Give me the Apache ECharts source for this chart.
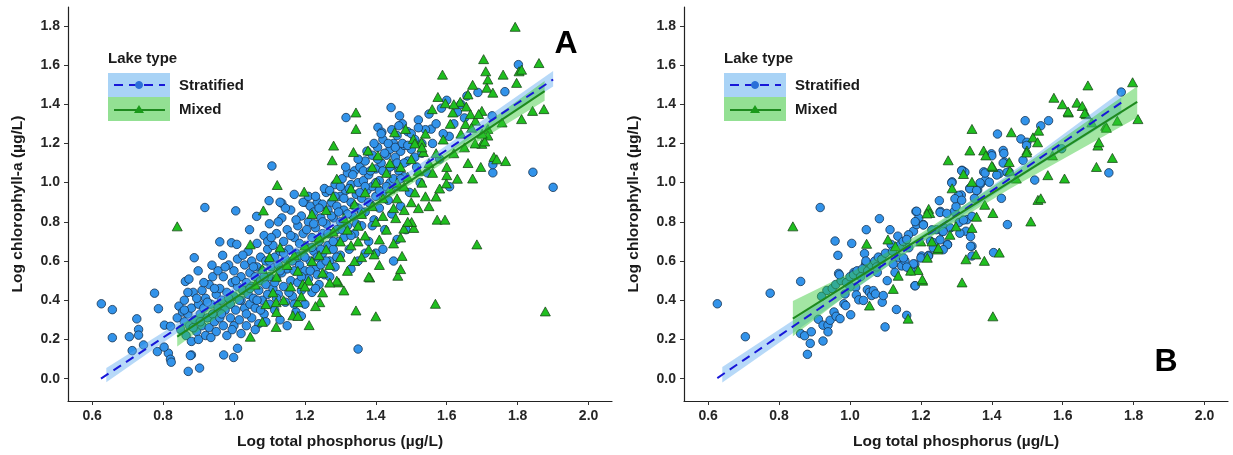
<!DOCTYPE html>
<html><head><meta charset="utf-8">
<script src="https://cdn.jsdelivr.net/npm/echarts@6/dist/echarts.min.js"></script>
<style>html,body{margin:0;padding:0;background:#fff}#c{width:1233px;height:455px}</style>
</head><body><div id="c"></div>
<script>
const xTicks = [0.6,0.8,1.0,1.2,1.4,1.6,1.8,2.0];
const yTicks = [0.0,0.2,0.4,0.6,0.8,1.0,1.2,1.4,1.6,1.8];
const xTitle = 'Log total phosphorus (µg/L)';
const yTitle = 'Log chlorophyll-a (µg/L)';
const legendTitle = 'Lake type';
const groupNames = ['Stratified','Mixed'];
const panelLabels = ['A','B'];

// Panel A – stratified lakes (circles)
const aStratified = [
[0.626,0.382],[0.657,0.352],[0.657,0.209],[0.705,0.214],[0.726,0.305],[0.731,0.251],[0.731,0.222],[0.713,0.143],[0.745,0.172],[0.776,0.436],
[0.787,0.357],[0.804,0.273],[0.821,0.267],[0.784,0.138],[0.815,0.130],[0.821,0.099],[0.823,0.084],[0.871,0.037],[0.903,0.054],[0.971,0.121],
[0.999,0.108],[1.010,0.155],[0.880,0.121],[0.877,0.118],[0.803,0.161],[0.888,0.617],[0.918,0.873],[1.005,0.856],[1.107,1.085],[1.350,0.151],
[1.900,0.976],[1.843,1.053],[1.802,1.602],[1.764,1.464],[1.730,1.050],[1.730,1.092],[1.688,1.460],[1.657,1.442],[1.443,1.383],[1.316,1.332],
[0.960,0.698],[0.993,0.693],[1.008,0.685],[0.968,0.629],[0.899,0.550],[0.863,0.496],[0.873,0.508],[0.938,0.579],[1.099,0.908],[1.135,0.895],
[1.064,0.828],[1.044,0.760],[1.607,1.236],[1.556,1.273],[1.467,1.341],[1.406,1.282],[1.417,1.257],[1.608,0.979],[1.728,1.341],
[0.84,0.31],[0.845,0.37],[0.85,0.25],[0.855,0.34],[0.86,0.29],[0.86,0.40],[0.865,0.22],[0.87,0.33],[0.875,0.27],[0.88,0.36],
[0.88,0.19],[0.885,0.44],[0.89,0.30],[0.895,0.24],[0.90,0.38],[0.90,0.20],[0.905,0.33],
[0.91,0.27],[0.91,0.45],[0.915,0.36],[0.92,0.22],[0.92,0.41],[0.925,0.31],[0.93,0.48],[0.93,0.26],[0.935,0.38],[0.94,0.33],
[0.94,0.52],[0.945,0.29],[0.95,0.43],[0.95,0.24],[0.955,0.36],[0.955,0.55],
[0.96,0.31],[0.96,0.46],[0.965,0.40],[0.97,0.27],[0.97,0.52],[0.975,0.35],[0.98,0.44],[0.98,0.22],[0.985,0.58],[0.99,0.38],
[0.99,0.31],[0.995,0.49],[1.0,0.42],[1.0,0.27],[1.0,0.55],
[1.005,0.35],[1.01,0.47],[1.01,0.61],[1.015,0.30],[1.02,0.40],[1.02,0.52],[1.025,0.45],[1.03,0.36],[1.03,0.58],[1.035,0.27],
[1.035,0.49],[1.04,0.43],[1.04,0.65],[1.045,0.38],[1.045,0.54],[1.05,0.31],[1.05,0.47],[1.05,0.60],
[1.055,0.41],[1.06,0.52],[1.06,0.36],[1.065,0.57],[1.065,0.69],[1.07,0.45],[1.07,0.28],[1.075,0.50],[1.075,0.62],[1.08,0.40],
[1.08,0.55],[1.085,0.33],[1.085,0.73],[1.09,0.48],[1.09,0.60],[1.095,0.43],[1.095,0.66],[1.10,0.52],[1.10,0.38],[1.10,0.79],
[1.105,0.57],[1.11,0.46],[1.11,0.68],[1.115,0.35],[1.115,0.62],[1.12,0.51],[1.12,0.74],[1.125,0.43],[1.125,0.58],[1.13,0.65],
[1.13,0.30],[1.135,0.54],[1.135,0.82],[1.14,0.47],[1.14,0.70],[1.145,0.61],[1.145,0.39],[1.15,0.56],[1.15,0.76],[1.15,0.27],
[1.155,0.66],[1.16,0.50],[1.16,0.86],[1.165,0.60],[1.165,0.42],[1.17,0.72],[1.17,0.55],[1.175,0.64],[1.175,0.34],[1.18,0.78],
[1.18,0.49],[1.185,0.69],[1.185,0.58],[1.19,0.83],[1.19,0.45],[1.195,0.63],[1.195,0.74],[1.20,0.55],[1.20,0.90],[1.20,0.38],
[1.205,0.67],[1.21,0.80],[1.21,0.51],[1.215,0.60],[1.215,0.88],[1.22,0.72],[1.22,0.44],[1.225,0.65],[1.225,0.85],[1.23,0.56],
[1.23,0.77],[1.235,0.90],[1.235,0.62],[1.24,0.70],[1.24,0.48],[1.245,0.82],[1.245,0.58],[1.25,0.74],[1.25,0.89],[1.25,0.64],
[1.255,0.53],[1.26,0.79],[1.26,0.95],[1.265,0.68],[1.265,0.86],[1.27,0.60],[1.27,0.74],[1.275,0.90],[1.28,0.82],[1.28,0.66],
[1.285,0.99],[1.285,0.57],[1.29,0.76],[1.29,0.88],[1.295,0.70],[1.30,0.93],[1.30,0.63],[1.30,0.80],
[1.305,1.02],[1.31,0.86],[1.31,0.72],[1.315,0.96],[1.32,0.78],[1.32,1.05],[1.325,0.66],[1.33,0.90],[1.33,0.99],[1.335,0.83],
[1.34,1.06],[1.34,0.74],[1.345,0.94],[1.35,0.87],[1.35,1.00],[1.35,0.60],
[1.355,1.08],[1.36,0.92],[1.36,0.78],[1.365,1.01],[1.37,0.85],[1.37,1.11],[1.375,0.96],[1.38,0.70],[1.38,1.04],[1.385,0.89],
[1.39,1.14],[1.39,0.98],[1.395,0.81],[1.40,1.07],[1.40,0.93],[1.40,0.64],
[1.405,1.18],[1.41,1.01],[1.41,0.87],[1.415,1.10],[1.42,0.95],[1.42,1.22],[1.425,0.76],[1.43,1.05],[1.43,1.14],[1.435,0.91],
[1.44,1.17],[1.44,1.00],[1.445,0.84],[1.45,1.09],[1.45,1.20],[1.45,0.60],
[1.455,1.13],[1.46,0.98],[1.46,1.24],[1.465,1.06],[1.47,0.88],[1.47,1.16],[1.475,1.30],[1.48,1.03],[1.48,1.19],[1.485,0.76],
[1.49,1.11],[1.49,1.26],[1.495,0.95],[1.50,1.17],
[1.51,1.22],[1.515,1.08],[1.52,1.32],[1.525,1.00],[1.53,1.15],[1.54,1.27],[1.545,1.05],[1.55,1.35],[1.56,1.20],[1.57,1.30],
[1.58,1.12],[1.585,1.38],[1.59,1.25],[1.60,1.42],[1.62,1.30],[1.63,1.36],[1.64,1.40],[1.65,1.33],
[0.86,0.35],[0.87,0.44],[0.885,0.26],[0.895,0.41],[0.905,0.29],[0.915,0.49],[0.925,0.39],[0.935,0.21],[0.945,0.46],[0.965,0.33],
[0.975,0.57],[0.985,0.41],[0.995,0.25],
[1.005,0.50],[1.015,0.40],[1.025,0.63],[1.035,0.33],[1.045,0.46],[1.055,0.57],[1.065,0.40],[1.075,0.35],[1.085,0.52],[1.095,0.70],
[1.02,0.23],[1.06,0.25],[1.09,0.29],[1.1,0.60],
[1.105,0.72],[1.115,0.49],[1.12,0.41],[1.125,0.80],[1.13,0.55],[1.14,0.64],[1.145,0.87],[1.155,0.44],[1.16,0.73],[1.17,0.38],
[1.175,0.81],[1.18,0.62],[1.19,0.52],[1.195,0.90],[1.2,0.62],[1.17,0.94],[1.13,0.90],[1.19,0.32],
[1.205,0.76],[1.21,0.93],[1.215,0.55],[1.22,0.67],[1.225,0.79],[1.23,0.93],[1.235,0.53],[1.24,0.87],[1.245,0.66],[1.25,0.80],
[1.255,0.97],[1.26,0.60],[1.265,0.74],[1.27,0.96],[1.275,0.83],[1.28,0.70],[1.285,0.93],[1.29,0.62],[1.295,0.85],[1.3,0.98],
[1.23,0.46],[1.27,0.52],
[1.305,0.76],[1.31,0.92],[1.315,1.08],[1.32,0.84],[1.325,0.97],[1.33,0.73],[1.335,1.04],[1.34,0.88],[1.345,0.79],[1.35,1.12],
[1.355,0.95],[1.36,0.85],[1.365,1.06],[1.37,0.98],[1.375,1.16],[1.38,0.90],[1.385,1.06],[1.39,0.78],[1.395,1.20],[1.4,1.00],
[1.33,0.56],[1.37,0.64],
[1.405,1.12],[1.41,0.96],[1.415,1.25],[1.42,1.06],[1.425,1.15],[1.43,0.98],[1.435,1.20],[1.44,1.08],[1.445,1.27],[1.45,1.02],
[1.455,1.18],[1.46,1.10],[1.465,1.29],[1.47,1.02],[1.475,1.20],[1.48,1.10],[1.49,1.19],[1.5,1.25],[1.51,1.13],[1.52,1.28],
[1.53,1.20],[1.42,0.66],[1.46,0.71]
];

// Panel A – mixed lakes (triangles)
const aMixed = [
[0.840,0.777],[1.793,1.795],[1.704,1.630],[1.860,1.610],[1.588,1.551],[1.710,1.568],[1.759,1.551],[1.804,1.568],[1.716,1.526],[1.673,1.499],
[1.713,1.484],[1.730,1.459],[1.797,1.509],[1.811,1.576],[1.575,1.437],[1.596,1.405],[1.638,1.412],[1.655,1.388],[1.699,1.366],[1.842,1.366],
[1.874,1.375],[1.559,1.375],[1.617,1.358],[1.667,1.349],[1.811,1.324],[1.681,1.316],[1.653,1.299],[1.756,1.307],[1.716,1.274],[1.716,1.240],
[1.699,1.198],[1.707,1.210],[1.733,1.131],[1.766,1.110],[1.741,1.119],[1.696,1.080],[1.673,1.021],[1.600,1.038],[1.599,0.996],[1.570,0.929],
[1.685,0.685],[1.573,0.811],[1.595,0.811],[1.568,0.382],[1.878,0.343],[1.400,0.318],[1.344,0.348],[1.383,0.516],[1.462,0.525],[1.470,0.559],
[1.474,0.626],[1.479,0.765],[1.507,0.769],[1.501,0.799],[1.456,0.819],[1.344,1.358],[1.344,1.274],[1.281,1.189],[1.277,1.114],[1.337,1.156],
[1.378,1.164],[1.406,1.139],[1.453,1.257],[1.484,1.274],[1.506,1.223],[1.529,1.206],[1.534,1.156],[1.122,0.988],[1.198,0.954],[1.083,0.858],
[1.046,0.685],[1.046,0.214],[1.119,0.264],[1.212,0.273],[1.166,0.323],[1.119,0.390],[1.180,0.390],[1.242,0.390],[1.194,0.483],[1.295,0.491],
[1.395,0.634],
[1.06,0.48],[1.08,0.56],[1.09,0.38],[1.10,0.62],[1.11,0.44],[1.12,0.52],[1.13,0.67],[1.14,0.40],[1.15,0.58],[1.12,0.34],[1.08,0.29],
[1.16,0.47],[1.17,0.63],[1.18,0.55],[1.19,0.42],[1.20,0.68],[1.21,0.50],[1.22,0.60],[1.23,0.37],[1.24,0.72],[1.25,0.54],
[1.22,0.84],[1.18,0.32],[1.20,0.47],[1.24,0.63],[1.25,0.44],
[1.26,0.66],[1.27,0.58],[1.28,0.75],[1.29,0.50],[1.30,0.70],[1.30,0.62],[1.31,0.82],[1.32,0.55],[1.32,0.76],[1.33,0.68],
[1.34,0.89],[1.34,0.60],[1.35,0.78],[1.26,0.86],[1.28,0.93],[1.33,0.97],[1.29,1.02],[1.31,0.45],[1.35,0.70],[1.27,0.49],
[1.36,0.84],[1.37,0.73],[1.37,0.95],[1.38,0.66],[1.39,0.88],[1.40,0.80],[1.40,1.00],[1.41,0.71],[1.42,0.92],[1.42,0.83],
[1.43,1.05],[1.43,0.76],[1.44,0.97],[1.45,0.87],[1.45,0.69],[1.39,1.08],[1.41,0.58],[1.44,1.10],[1.36,0.62],[1.38,0.52],
[1.46,1.00],[1.46,0.92],[1.47,1.08],[1.48,0.86],[1.48,0.98],[1.49,1.03],[1.50,0.90],[1.50,1.12],[1.51,0.95],[1.52,1.06],
[1.52,0.87],[1.53,1.00],[1.53,1.18],[1.54,0.93],[1.55,1.10],[1.55,0.88],[1.47,0.72],[1.49,0.80],[1.51,1.20],[1.54,1.25],
[1.56,1.05],[1.57,1.15],[1.58,0.97],[1.59,1.22],[1.60,1.08],[1.61,1.30],[1.62,1.15],[1.63,1.02],[1.64,1.25],[1.65,1.18],
[1.66,1.10],[1.67,1.28],[1.68,1.20],[1.69,1.35],[1.70,1.25],[1.62,1.40],[1.66,1.45]
];

// Panel B – stratified lakes (circles)
const bStratified = [
[0.626,0.382],[0.705,0.214],[0.775,0.436],[0.861,0.496],[0.916,0.873],[0.861,0.230],[0.872,0.219],[0.880,0.124],[0.888,0.180],[0.891,0.239],
[0.911,0.303],[0.924,0.273],[0.924,0.192],[0.938,0.273],[0.938,0.239],[0.944,0.298],[0.955,0.340],[0.961,0.318],[0.972,0.306],[0.983,0.382],
[0.988,0.373],[1.002,0.326],[0.958,0.702],[0.966,0.629],[0.968,0.537],[0.986,0.432],[0.994,0.491],[1.005,0.690],[1.011,0.542],[1.016,0.466],
[1.018,0.427],[1.025,0.402],[1.038,0.399],[1.041,0.638],[1.044,0.584],[1.046,0.760],[1.049,0.454],[1.055,0.441],[1.061,0.424],[1.066,0.449],
[1.072,0.432],[1.077,0.542],[1.083,0.816],[1.091,0.390],[1.094,0.424],[1.099,0.264],[1.105,0.500],[1.113,0.760],[1.116,0.685],[1.122,0.584],
[1.127,0.542],[1.131,0.353],[1.135,0.727],[1.138,0.617],[1.146,0.575],[1.155,0.601],[1.160,0.323],[1.166,0.668],[1.172,0.550],[1.179,0.752],
[1.183,0.584],[1.186,0.853],[1.188,0.786],[1.194,0.819],[1.183,0.474],[1.202,0.626],[1.207,0.786],[1.222,0.629],[1.227,0.702],[1.236,0.693],
[1.244,0.760],[1.252,0.908],[1.255,0.853],[1.260,0.752],[1.266,0.769],[1.275,0.685],[1.283,0.769],[1.288,1.004],[1.294,0.853],[1.299,0.878],
[1.308,0.797],[1.314,0.937],[1.316,1.063],[1.321,1.055],[1.327,0.752],[1.330,0.811],[1.338,0.971],[1.344,0.828],[1.344,0.676],[1.344,0.626],
[1.351,0.920],[1.360,0.962],[1.368,0.993],[1.377,1.055],[1.382,1.013],[1.399,1.147],[1.405,0.643],[1.416,1.248],[1.421,1.046],[1.427,0.920],
[1.432,1.164],[1.436,1.105],[1.444,0.786],[1.449,1.055],[1.482,1.223],[1.494,1.316],[1.499,1.206],[1.488,1.114],[1.521,1.013],[1.538,1.290],
[1.560,1.316],[1.765,1.462],[1.730,1.050],[1.597,1.173],
[1.498,1.190],[1.434,1.149],[1.400,1.137],[1.432,1.100],[1.443,1.053],[1.414,1.039],[1.381,1.049],[1.324,1.053],[1.315,1.061],[1.393,1.002],
[1.367,0.999],[1.287,0.999],[1.338,0.969],[1.357,0.960],[1.306,0.935],[1.296,0.918],[1.315,0.910],[1.188,0.854],[1.254,0.848],[1.273,0.843],
[1.184,0.801],[1.320,0.809],[1.207,0.784],[1.231,0.759],[1.263,0.751],[1.310,0.742],[1.340,0.725],[1.165,0.734],[1.254,0.708],[1.340,0.675],
[1.275,0.683],[1.235,0.667],[1.263,0.658],[1.200,0.616],[1.221,0.625],[1.151,0.616],[1.179,0.586],[1.160,0.569],[1.184,0.474],
[0.92,0.42],[0.935,0.45],[0.95,0.46],[0.96,0.48],[0.975,0.50],[0.99,0.49],[1.0,0.52],[1.01,0.53],[1.02,0.55],[1.035,0.56],
[1.05,0.55],[1.06,0.58],[1.07,0.60],[1.08,0.62],[1.09,0.61],[1.1,0.64],[1.12,0.65],[1.14,0.68],[1.15,0.70],[1.16,0.71],
[0.97,0.53],[1.03,0.52],[1.0,0.47],[1.045,0.60],[1.075,0.57]
];

// Panel B – mixed lakes (triangles)
const bMixed = [
[0.839,0.777],[1.047,0.688],[1.055,0.373],[1.107,0.710],[1.122,0.458],[1.136,0.525],[1.164,0.306],[1.192,0.554],[1.205,0.500],[1.218,0.617],
[1.222,0.866],[1.225,0.845],[1.247,0.659],[1.277,1.114],[1.288,0.971],[1.299,0.777],[1.316,0.491],[1.327,0.609],[1.344,1.274],[1.338,1.164],
[1.344,1.004],[1.344,0.769],[1.355,0.634],[1.377,1.164],[1.383,1.139],[1.380,0.887],[1.379,0.601],[1.403,1.080],[1.403,0.845],[1.403,0.318],
[1.421,0.643],[1.455,1.257],[1.449,1.105],[1.469,1.021],[1.499,1.164],[1.516,1.231],[1.529,1.206],[1.532,1.265],[1.510,0.802],[1.530,0.912],
[1.538,0.920],[1.558,1.038],[1.571,1.139],[1.575,1.433],[1.599,1.400],[1.605,1.021],[1.616,1.358],[1.640,1.408],[1.655,1.391],[1.666,1.349],
[1.671,1.496],[1.682,1.307],[1.695,1.080],[1.699,1.189],[1.702,1.206],[1.721,1.290],[1.740,1.126],[1.754,1.316],[1.797,1.512],[1.812,1.324],
[1.128,0.676],[1.171,0.551],[1.200,0.700],[1.400,1.086],[1.498,1.154],[1.451,1.061],[1.320,1.044],[1.357,0.826],[1.217,0.843],[1.249,0.667],
[1.231,0.700],[1.282,0.734],[1.204,0.507],[1.615,1.363],[1.662,1.355],[1.723,1.280]
];

// Fitted regression lines (endpoints)
const aStratFit = [[0.625,0.000],[1.900,1.526]];
const aMixedFit = [[0.840,0.214],[1.876,1.467]];
const bStratFit = [[0.626,0.003],[1.765,1.408]];
const bMixedFit = [[0.839,0.306],[1.810,1.412]];

// Confidence bands: [x, lower, upper]
const aStratBand = [[0.64,-0.018,0.054],[0.9,0.31,0.35],[1.2,0.678,0.702],[1.5,1.035,1.065],[1.9,1.49,1.57]];
const aMixedBand = [[0.84,0.164,0.264],[1.1,0.504,0.554],[1.35,0.816,0.846],[1.6,1.112,1.156],[1.876,1.418,1.518]];
const bStratBand = [[0.64,-0.02,0.06],[0.9,0.31,0.37],[1.2,0.693,0.729],[1.5,1.05,1.11],[1.765,1.35,1.465]];
const bMixedBand = [[0.839,0.216,0.396],[1.0,0.439,0.539],[1.2,0.692,0.742],[1.45,0.967,1.037],[1.81,1.332,1.492]];

const FONT = '"Liberation Sans", Arial, sans-serif';
const C_FILL = '#3293ea', C_EDGE = '#17324f';
const T_FILL = '#1fbf1f', T_EDGE = '#1b4a1b';
const STRAT_LINE = '#1717d8', MIX_LINE = '#1e8a1e';
const STRAT_BAND = 'rgba(95,170,240,0.45)', MIX_BAND = 'rgba(50,200,50,0.45)';
const STRAT_KEY = '#a9d3f6', MIX_KEY = '#93e093';

const chart = echarts.init(document.getElementById('c'), null, {renderer:'canvas'});

function xAxisFor(i){
  return {type:'value', gridIndex:i, min:0.532, max:2.066,
    name:xTitle, nameLocation:'middle', nameGap:33,
    nameTextStyle:{fontFamily:FONT, fontWeight:'bold', fontSize:15.5, color:'#1a1a1a'},
    axisLine:{show:true, onZero:false, lineStyle:{color:'#222', width:1.2}},
    axisTick:{show:true, length:4, customValues:xTicks, lineStyle:{color:'#333'}},
    axisLabel:{customValues:xTicks, margin:8, fontFamily:FONT, fontWeight:'bold', fontSize:14, color:'#262626', formatter:v=>v.toFixed(1)},
    splitLine:{show:false}};
}
function yAxisFor(i){
  return {type:'value', gridIndex:i, min:-0.114, max:1.896,
    name:yTitle, nameLocation:'middle', nameGap:42, nameRotate:90,
    nameTextStyle:{fontFamily:FONT, fontWeight:'bold', fontSize:15.5, color:'#1a1a1a'},
    axisLine:{show:true, onZero:false, lineStyle:{color:'#222', width:1.2}},
    axisTick:{show:true, length:4, customValues:yTicks, lineStyle:{color:'#333'}},
    axisLabel:{customValues:yTicks, margin:8, fontFamily:FONT, fontWeight:'bold', fontSize:14, color:'#262626', formatter:v=>v.toFixed(1)},
    splitLine:{show:false}};
}
function bandSeries(band, color, i){
  return {type:'custom', xAxisIndex:i, yAxisIndex:i, data:band, z:3, silent:true, encode:{x:0, y:[1,2]},
    renderItem:function(params, api){
      if(params.dataIndex!==0) return {type:'group', children:[]};
      const top = band.map(r=>api.coord([r[0], r[2]]));
      const bot = band.slice().reverse().map(r=>api.coord([r[0], r[1]]));
      return {type:'polygon', shape:{points:top.concat(bot)}, style:{fill:color}};
    }};
}
function scatterSeries(data, name, i, tri){
  return {type:'scatter', name:name, xAxisIndex:i, yAxisIndex:i, data:data, z:2,
    symbol: tri ? 'triangle' : 'circle', symbolSize: tri ? [10,9] : 8.5,
    itemStyle:{color: tri ? T_FILL : C_FILL, borderColor: tri ? T_EDGE : C_EDGE, borderWidth:0.8, opacity:1}};
}
function lineSeries(data, color, dashed, i){
  return {type:'line', xAxisIndex:i, yAxisIndex:i, data:data, z:5, symbol:'none', silent:true,
    lineStyle:{color:color, width:2, type: dashed ? [9,6] : 'solid'}};
}
function legendGraphics(dx){
  const tf = 'bold 15px '+FONT;
  return [
    {type:'text', x:108+dx, y:59, style:{text:legendTitle, font:tf, fill:'#1a1a1a', verticalAlign:'middle'}},
    {type:'rect', shape:{x:108+dx, y:73, width:62, height:24}, style:{fill:STRAT_KEY}},
    {type:'rect', shape:{x:108+dx, y:97, width:62, height:24}, style:{fill:MIX_KEY}},
    {type:'line', shape:{x1:114+dx, y1:85, x2:165+dx, y2:85}, style:{stroke:STRAT_LINE, lineWidth:2, lineDash:[9,6]}},
    {type:'circle', shape:{cx:139+dx, cy:85, r:3.5}, style:{fill:'#2a6fd8', stroke:'#2a6fd8'}},
    {type:'line', shape:{x1:114+dx, y1:110, x2:165+dx, y2:110}, style:{stroke:MIX_LINE, lineWidth:2}},
    {type:'polygon', shape:{points:[[139+dx,105],[144+dx,113],[134+dx,113]]}, style:{fill:'#1a9a1a'}},
    {type:'text', x:179+dx, y:86, style:{text:groupNames[0], font:tf, fill:'#1a1a1a', verticalAlign:'middle'}},
    {type:'text', x:179+dx, y:110, style:{text:groupNames[1], font:tf, fill:'#1a1a1a', verticalAlign:'middle'}}
  ];
}

chart.setOption({
  animation:false,
  backgroundColor:'#fff',
  grid:[{left:68, top:7, width:544, height:397}, {left:684, top:7, width:544, height:397}],
  xAxis:[xAxisFor(0), xAxisFor(1)],
  yAxis:[yAxisFor(0), yAxisFor(1)],
  series:[
    scatterSeries(aStratified, groupNames[0], 0, false),
    scatterSeries(aMixed, groupNames[1], 0, true),
    bandSeries(aStratBand, STRAT_BAND, 0),
    bandSeries(aMixedBand, MIX_BAND, 0),
    lineSeries(aStratFit, STRAT_LINE, true, 0),
    lineSeries(aMixedFit, MIX_LINE, false, 0),
    scatterSeries(bStratified, groupNames[0], 1, false),
    scatterSeries(bMixed, groupNames[1], 1, true),
    bandSeries(bStratBand, STRAT_BAND, 1),
    bandSeries(bMixedBand, MIX_BAND, 1),
    lineSeries(bStratFit, STRAT_LINE, true, 1),
    lineSeries(bMixedFit, MIX_LINE, false, 1)
  ],
  graphic: legendGraphics(0).concat(legendGraphics(616)).concat([
    {type:'text', x:566, y:44, style:{text:panelLabels[0], font:'bold 32px '+FONT, fill:'#000', align:'center', verticalAlign:'middle'}},
    {type:'text', x:1166, y:362, style:{text:panelLabels[1], font:'bold 32px '+FONT, fill:'#000', align:'center', verticalAlign:'middle'}}
  ])
});
</script></body></html>
